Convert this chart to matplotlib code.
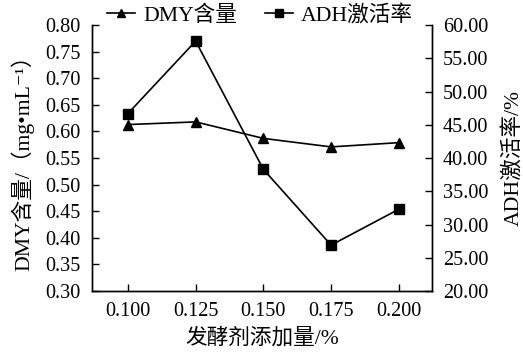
import numpy as np
import matplotlib
matplotlib.use("Agg")
import matplotlib.pyplot as plt

plt.rcParams['font.family'] = ['Liberation Serif', 'Noto Sans CJK SC', 'DejaVu Sans']
plt.rcParams['font.size'] = 14.6

# Data
dose_labels = ["0.100", "0.125", "0.150", "0.175", "0.200"]
dmy_content = [0.613, 0.618, 0.587, 0.571, 0.579]
adh_activation = [46.7, 57.6, 38.3, 26.9, 32.3]

x = np.arange(len(dose_labels))

fig = plt.figure(figsize=(5.23, 3.54), dpi=100)
ax = fig.add_axes([0.176, 0.178, 0.650, 0.751])
ax2 = ax.twinx()

l1, = ax.plot(x, dmy_content, color='black', lw=1.2, marker='^', ms=7,
              label='DMY含量')
l2, = ax2.plot(x, adh_activation, color='black', lw=1.2, marker='s', ms=7,
               label='ADH激活率')

ax.set_xlim(-0.53, 4.49)
ax.set_ylim(0.30, 0.80)
ax.set_yticks(np.arange(0.30, 0.801, 0.05))
ax.set_yticklabels([f"{v:.2f}" for v in np.arange(0.30, 0.801, 0.05)])
ax2.set_ylim(20, 60)
ax2.set_yticks(np.arange(20, 60.1, 5))
ax2.set_yticklabels([f"{v:.2f}" for v in np.arange(20, 60.1, 5)])
ax.set_xticks(x)
ax.set_xticklabels(dose_labels)

for a in (ax, ax2):
    a.spines['top'].set_visible(False)
    for s in a.spines.values():
        s.set_linewidth(1.0)
ax.tick_params(axis='both', direction='in', length=5, width=1.0, pad=8)
ax2.tick_params(axis='y', direction='in', length=5, width=1.0, pad=8)

label_size = 15.6
ax.set_xlabel('发酵剂添加量/%', fontsize=label_size, labelpad=5)
ax.set_ylabel('DMY含量/（mg•mL⁻¹）', fontsize=label_size, labelpad=8)
ax2.set_ylabel('ADH激活率/%', fontsize=label_size, labelpad=10)

fig.legend(handles=[l1, l2], loc='center', bbox_to_anchor=(0.497, 0.956),
           ncol=2, frameon=False, fontsize=label_size, handlelength=1.3,
           handletextpad=0.35, columnspacing=1.3, markerscale=0.8,
           borderaxespad=0)

fig.savefig('out.png', dpi=100)
